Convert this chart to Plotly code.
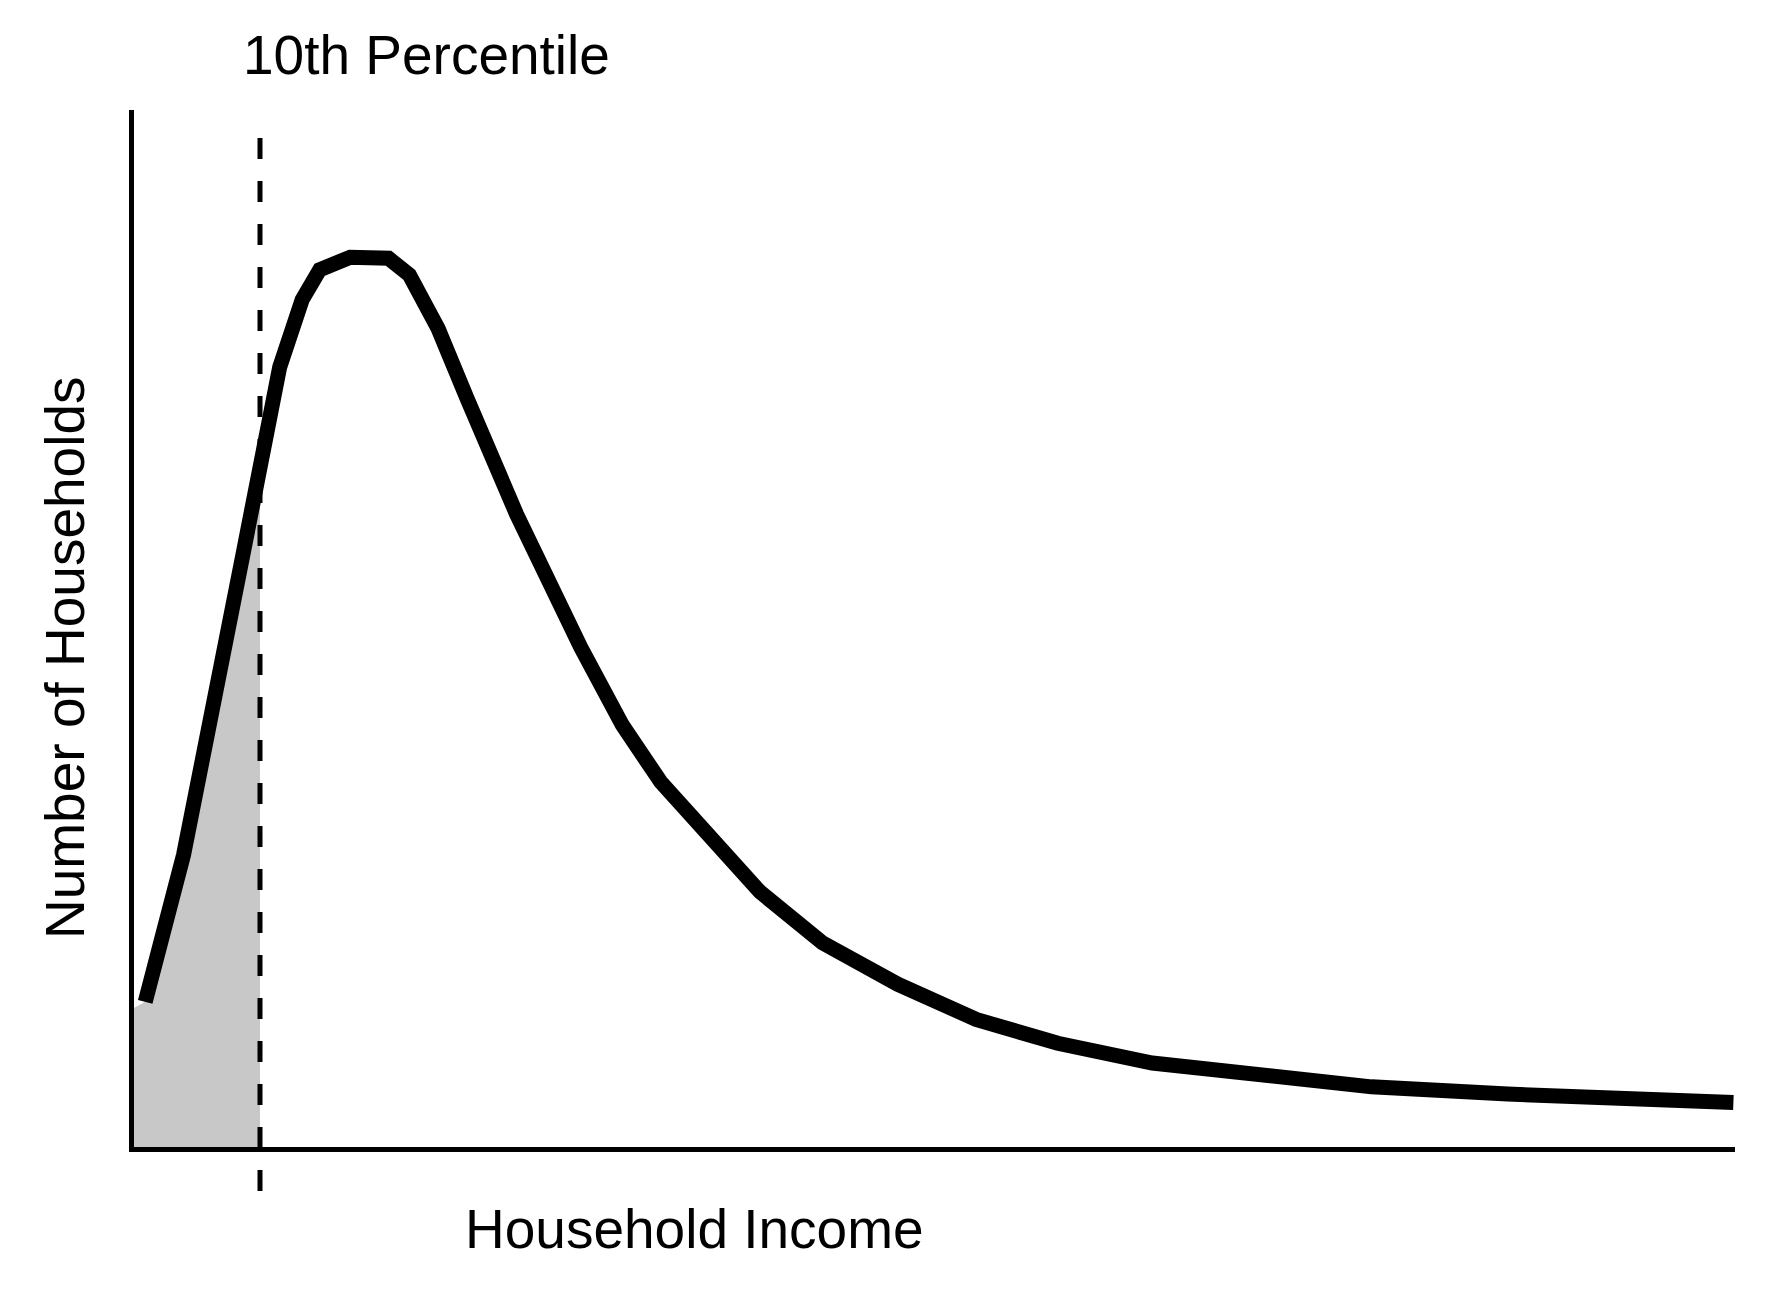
"""Income distribution sketch with the 10th percentile shaded."""

import numpy as np
import plotly.graph_objects as go

# --- data (arbitrary units, 0-100 on both axes) ----

income = [
    0.7, 2.1, 3.1, 6.8, 8.1, 9.1, 10.5, 11.6, 13.5, 15.9, 17.2, 19.0, 20.8,
    23.9, 27.9, 30.5, 32.9, 35.9, 39.1, 43.0, 47.7, 52.6, 57.7, 63.6, 71.1,
    77.3, 85.8, 93.4, 99.9,
]
households = [
    14.0, 22.4, 28.2, 57.1, 68.5, 75.2, 81.7, 84.6, 85.8, 85.7, 84.1, 78.9,
    72.2, 61.0, 48.2, 40.7, 35.2, 30.2, 24.6, 19.7, 15.7, 12.3, 10.0, 8.1,
    6.7, 5.8, 5.1, 4.6, 4.3,
]

p10_income = 7.87          # where the dashed percentile line sits
shade_start_households = 13.4  # top of the grey area at the y axis

FONT = "Liberation Sans, Arial, Helvetica, sans-serif"

# --- shaded area below the 10th percentile -----------------------------

inc = np.array(income)
hh = np.array(households)
below = inc <= p10_income
shade_x = np.concatenate([[0.0], inc[below], [p10_income]])
shade_y = np.concatenate(
    [[shade_start_households], hh[below], [np.interp(p10_income, inc, hh)]]
)

fig = go.Figure()
fig.add_trace(
    go.Scatter(
        x=shade_x,
        y=shade_y,
        mode="lines",
        fill="tozeroy",
        fillcolor="#c8c8c8",
        line={"width": 0, "color": "#c8c8c8"},
        hoverinfo="skip",
        showlegend=False,
    )
)
fig.add_trace(
    go.Scatter(
        x=income,
        y=households,
        mode="lines",
        line={"color": "black", "width": 15},
        hoverinfo="skip",
        showlegend=False,
    )
)

# dashed percentile marker, runs past the x axis at the bottom
fig.add_shape(
    type="line",
    xref="x",
    yref="paper",
    x0=p10_income,
    x1=p10_income,
    y0=-0.0424,
    y1=0.9798,
    line={"color": "black", "width": 5, "dash": "21px,22px"},
    layer="above",
)

fig.add_annotation(
    text="10th Percentile", xref="paper", yref="paper", x=0.183, y=1.053,
    showarrow=False, xanchor="center", yanchor="middle",
    font={"family": FONT, "size": 55, "color": "black"},
)
fig.add_annotation(
    text="Household Income", xref="paper", yref="paper", x=0.3498, y=-0.079,
    showarrow=False, xanchor="center", yanchor="middle",
    font={"family": FONT, "size": 55, "color": "black"},
)
fig.add_annotation(
    text="Number of Households", xref="paper", yref="paper", x=-0.0431, y=0.4725,
    textangle=-90, showarrow=False, xanchor="center", yanchor="middle",
    font={"family": FONT, "size": 55, "color": "black"},
)

axis_style = {
    "showline": True,
    "linecolor": "black",
    "linewidth": 4.5,
    "showgrid": False,
    "zeroline": False,
    "showticklabels": False,
    "ticks": "",
    "fixedrange": True,
}
fig.update_xaxes(range=[0, 100], **axis_style)
fig.update_yaxes(range=[0, 100], **axis_style)

fig.update_layout(
    width=1785,
    height=1310,
    margin={"l": 126, "r": 58, "t": 102, "b": 171},
    plot_bgcolor="white",
    paper_bgcolor="white",
    font={"family": FONT},
    showlegend=False,
)

fig.write_html("out.html")
